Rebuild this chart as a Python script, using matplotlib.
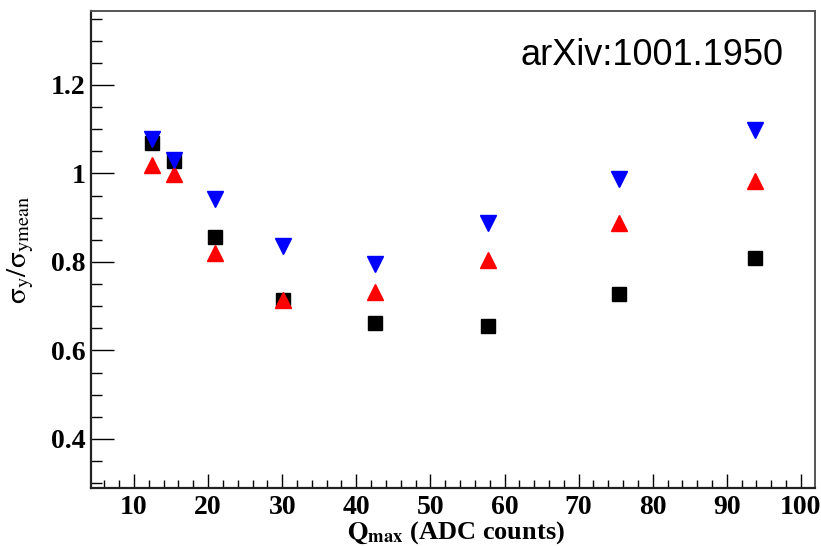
import matplotlib
matplotlib.use("Agg")
import matplotlib.pyplot as plt
from matplotlib.ticker import MultipleLocator

plt.rcParams['mathtext.fontset'] = 'stix'

# Q_max bins (ADC counts)
q_max = [12.4, 15.4, 20.9, 30.1, 42.5, 57.8, 75.5, 93.8]

# relative resolution sigma_y / sigma_ymean for three reconstruction settings
sigma_black = [1.068, 1.029, 0.857, 0.715, 0.661, 0.654, 0.728, 0.809]
sigma_red = [1.018, 0.998, 0.819, 0.715, 0.733, 0.805, 0.889, 0.982]
sigma_blue = [1.077, 1.031, 0.941, 0.836, 0.795, 0.889, 0.987, 1.097]

fig = plt.figure(figsize=(8.21, 5.46), dpi=100)
ax = fig.add_axes([91 / 821, 1 - 488 / 546, (815 - 91) / 821, (488 - 11) / 546])

ax.plot(q_max, sigma_black, 's', color='black', markersize=10, linestyle='none')
ax.plot(q_max, sigma_red, '^', color='red', markersize=11, linestyle='none')
ax.plot(q_max, sigma_blue, 'v', color='blue', markersize=11, linestyle='none')

ax.set_xlim(4.2, 101.9)
ax.set_ylim(0.289, 1.367)

ax.xaxis.set_major_locator(MultipleLocator(10))
ax.xaxis.set_minor_locator(MultipleLocator(2))
ax.yaxis.set_major_locator(MultipleLocator(0.2))
ax.yaxis.set_minor_locator(MultipleLocator(0.05))

ax.tick_params(axis='x', which='major', direction='in', length=10, width=1, pad=5,
               top=False, labelsize=20)
ax.tick_params(axis='x', which='minor', direction='in', length=5.5, width=1, top=False)
ax.tick_params(axis='y', which='major', direction='in', length=16.5, width=1, pad=4,
               right=False, labelsize=20)
ax.tick_params(axis='y', which='minor', direction='in', length=8, width=1, right=False)

for lab in ax.get_xticklabels() + ax.get_yticklabels():
    lab.set_fontfamily('Liberation Serif')
    lab.set_fontweight('bold')

ax.yaxis.set_major_formatter(plt.FuncFormatter(lambda v, p: f'{v:g}'))

for side in ['left', 'bottom']:
    ax.spines[side].set_linewidth(1.6)
    ax.spines[side].set_color('#222222')
for side in ['top', 'right']:
    ax.spines[side].set_linewidth(1.4)
    ax.spines[side].set_color('#555555')

ax.set_xlabel(r'$\mathbf{Q_{max}}$ (ADC counts)', fontfamily='Liberation Serif',
              fontweight='bold', fontsize=19)
ax.xaxis.set_label_coords(0.504, -0.0645)
ax.xaxis.label.set_va('top')
ax.set_ylabel(r'$\mathrm{\sigma_{y}/\sigma_{ymean}}$', fontsize=21)
ax.yaxis.set_label_coords(-0.076, 0.5)

fig.text(520 / 821, 1 - 65 / 546, 'arXiv:1001.1950', fontfamily='Liberation Sans',
         fontsize=26, ha='left', va='baseline')

fig.savefig('out.png', dpi=100)
